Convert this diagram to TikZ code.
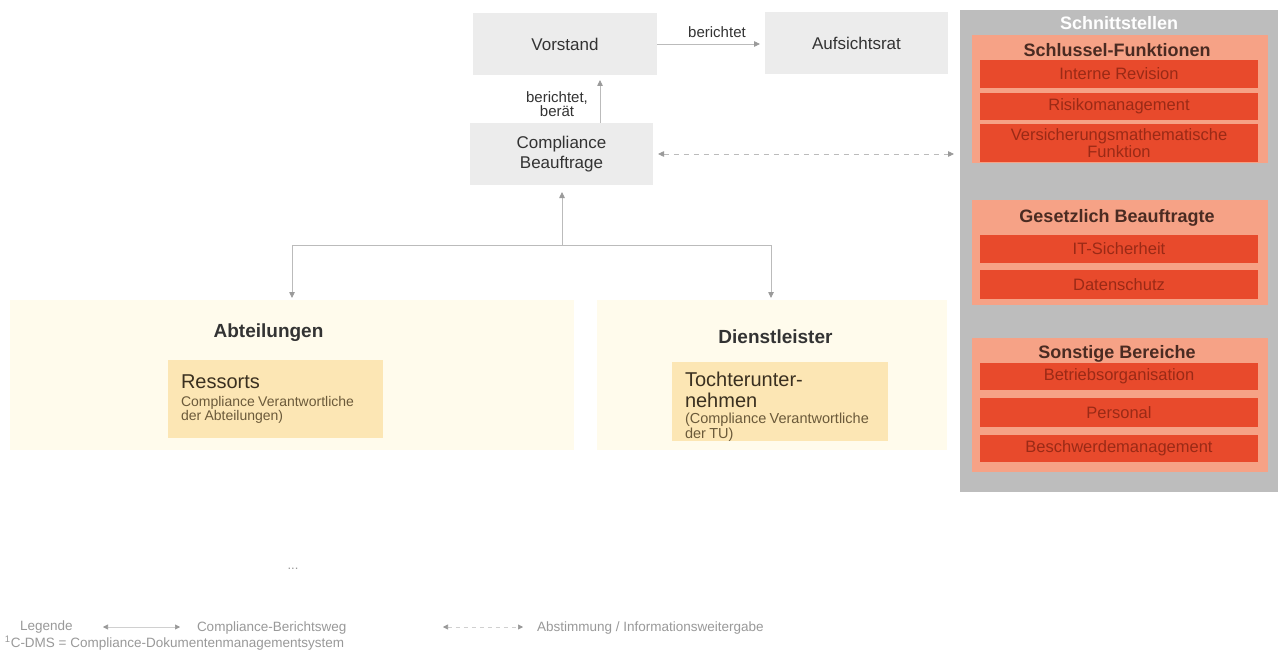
\documentclass[tikz,border=0pt]{standalone}
\usepackage{fontspec}
\setmainfont{Liberation Sans}
\usetikzlibrary{arrows.meta}
\definecolor{boxgray}{HTML}{ECECEC}
\definecolor{maintext}{HTML}{333333}
\definecolor{connc}{HTML}{BBBBBB}
\definecolor{headc}{HTML}{9A9A9A}
\definecolor{band}{HTML}{FFFBEC}
\definecolor{ressc}{HTML}{FCE6B4}
\definecolor{ressdark}{HTML}{3A3020}
\definecolor{resssub}{HTML}{6B5A3A}
\definecolor{panelc}{HTML}{BDBDBD}
\definecolor{groupc}{HTML}{F6A286}
\definecolor{barc}{HTML}{E84A2C}
\definecolor{bartext}{HTML}{9A2A16}
\definecolor{titlec}{HTML}{4A2B22}
\definecolor{legc}{HTML}{999999}
\definecolor{leglc}{HTML}{D0D0D0}
\begin{document}
\begin{tikzpicture}[x=1pt,y=-1pt,
  every node/.style={inner sep=0pt, outer sep=0pt},
  mainbox/.style={fill=boxgray, text=maintext, align=center,
    font=\fontsize{17}{20}\selectfont},
  conn/.style={draw=connc, line width=0.8pt,
    arrows={-{Triangle[length=6pt,width=5.5pt,color=headc,fill=headc]}}},
  conn2/.style={draw=connc, line width=0.8pt,
    arrows={{Triangle[length=6pt,width=5.5pt,color=headc,fill=headc]}-{Triangle[length=6pt,width=5.5pt,color=headc,fill=headc]}}},
  lbl/.style={text=maintext, align=center, font=\fontsize{15}{15}\selectfont},
  unitbox/.style={fill=ressc, anchor=north west, align=left, inner xsep=13pt},
  grouphead/.style={font=\bfseries\fontsize{19}{20}\selectfont, text=maintext},
  groupbox/.style={fill=groupc, minimum width=296pt, anchor=north},
  grouptitle/.style={font=\bfseries\fontsize{18}{18}\selectfont, text=titlec},
  bar/.style={fill=barc, minimum width=278pt, text=bartext, align=center,
    font=\fontsize{16.5}{15}\selectfont},
  legtext/.style={text=legc, anchor=west, font=\fontsize{13.5}{14}\selectfont},
  legarrow/.style={draw=leglc, line width=0.6pt,
    arrows={{Triangle[length=5pt,width=5pt,color=legc,fill=legc]}-{Triangle[length=5pt,width=5pt,color=legc,fill=legc]}}}
]
\useasboundingbox (0,0) rectangle (1280,658);
\fill[white] (0,0) rectangle (1280,658);

% pale bands
\fill[band] (10,300) rectangle (574,450);
\fill[band] (597,300) rectangle (947,450);

% top boxes
\node[mainbox, minimum width=184pt, minimum height=62pt] (vs) at (565,44) {Vorstand};
\node[mainbox, minimum width=183pt, minimum height=62pt] (ar) at (856.5,43) {Aufsichtsrat};
\node[mainbox, minimum width=183pt, minimum height=62pt] (cb) at (561.5,154) {Compliance\\[0pt]Beauftrage};

\node[lbl] (l1) at (717,32) {berichtet};
\node[lbl] (l2) at (557,104) {berichtet,\\[-1pt]berät};

\draw[conn, shorten >=5pt] (vs.east) -- (vs.east -| ar.west);
\coordinate (upx) at (600,0);
\draw[conn, shorten >=5pt] (upx |- cb.north) -- (upx |- vs.south);

% right panel
\node[fill=panelc, minimum width=318pt, minimum height=482pt, anchor=north west] (sp) at (960,10) {};
\node[font=\bfseries\fontsize{18}{18}\selectfont, text=white] (spt) at (1119,23) {Schnittstellen};

\draw[conn2, dash pattern=on 5pt off 5pt, shorten <=5pt, shorten >=6pt] (cb.east) -- (sp.west |- cb.east);

% group 1
\node[groupbox, minimum height=128pt] (g1) at (1120,35) {};
\node[grouptitle] (g1t) at (1117,50) {Schlussel-Funktionen};
\node[bar, minimum height=28pt] (b11) at (1119,74) {Interne Revision};
\node[bar, minimum height=27pt] (b12) at (1119,106.5) {Risikomanagement};
\node[bar, minimum height=38pt] (b13) at (1119,143) {Versicherungsmathematische\\Funktion};

% group 2
\node[groupbox, minimum height=105pt] (g2) at (1120,200) {};
\node[grouptitle] (g2t) at (1117,218) {Gesetzlich Beauftragte};
\node[bar, minimum height=28pt] (b21) at (1119,249) {IT-Sicherheit};
\node[bar, minimum height=29pt] (b22) at (1119,284.5) {Datenschutz};

% group 3
\node[groupbox, minimum height=134pt] (g3) at (1120,338) {};
\node[grouptitle] (g3t) at (1117,354) {Sonstige Bereiche};
\node[bar, minimum height=27pt] (b31) at (1119,376.5) {Betriebsorganisation};
\node[bar, minimum height=29pt] (b32) at (1119,412.5) {Personal};
\node[bar, minimum height=27pt] (b33) at (1119,448.5) {Beschwerdemanagement};

% lower units
\node[grouphead] (abt) at (268.5,333) {Abteilungen};
\node[grouphead] (dl) at (775.5,337) {Dienstleister};

\node[unitbox, text width=189pt, minimum height=78pt] (res) at (168,360)
  {\color{ressdark}\fontsize{20}{20}\selectfont Ressorts\\[1pt]\color{resssub}\fontsize{14}{17}\selectfont Compliance Verantwortliche\\der Abteilungen)};
\node[unitbox, text width=190pt, minimum height=78pt] (tu) at (672,362)
  {\color{ressdark}\fontsize{20}{20}\selectfont\rule{0pt}{24pt}Tochterunter-\\[1pt]nehmen\\[3pt]\color{resssub}\fontsize{14.5}{13.5}\selectfont (Compliance Verantwortliche\\der TU)};

% tree connector
\coordinate (j) at (562,245);
\coordinate (abtIn) at (292,298);
\coordinate (dlIn) at (771,298);
\draw[conn, shorten >=7pt] (j) -- (j |- cb.south);
\draw[conn] (j) -| (abtIn);
\draw[conn] (j) -| (dlIn);

% dots
\node[text=legc, font=\fontsize{13}{13}\selectfont] (dots) at (293,569) {...};

% legend
\node[legtext] (leg) at (20,627) {Legende};
\coordinate (la1) at (103,627);
\coordinate (la2) at (180,627);
\draw[legarrow] (la1) -- (la2);
\node[legtext] (leg1) at (197,628) {Compliance-Berichtsweg};
\coordinate (lb1) at (443,627);
\coordinate (lb2) at (523,627);
\draw[legarrow, dash pattern=on 4pt off 4pt] (lb1) -- (lb2);
\node[legtext] (leg2) at (537,628) {Abstimmung / Informationsweitergabe};
\node[legtext] (leg3) at (5,643) {\textsuperscript{1}C-DMS = Compliance-Dokumentenmanagementsystem};
\end{tikzpicture}
\end{document}
